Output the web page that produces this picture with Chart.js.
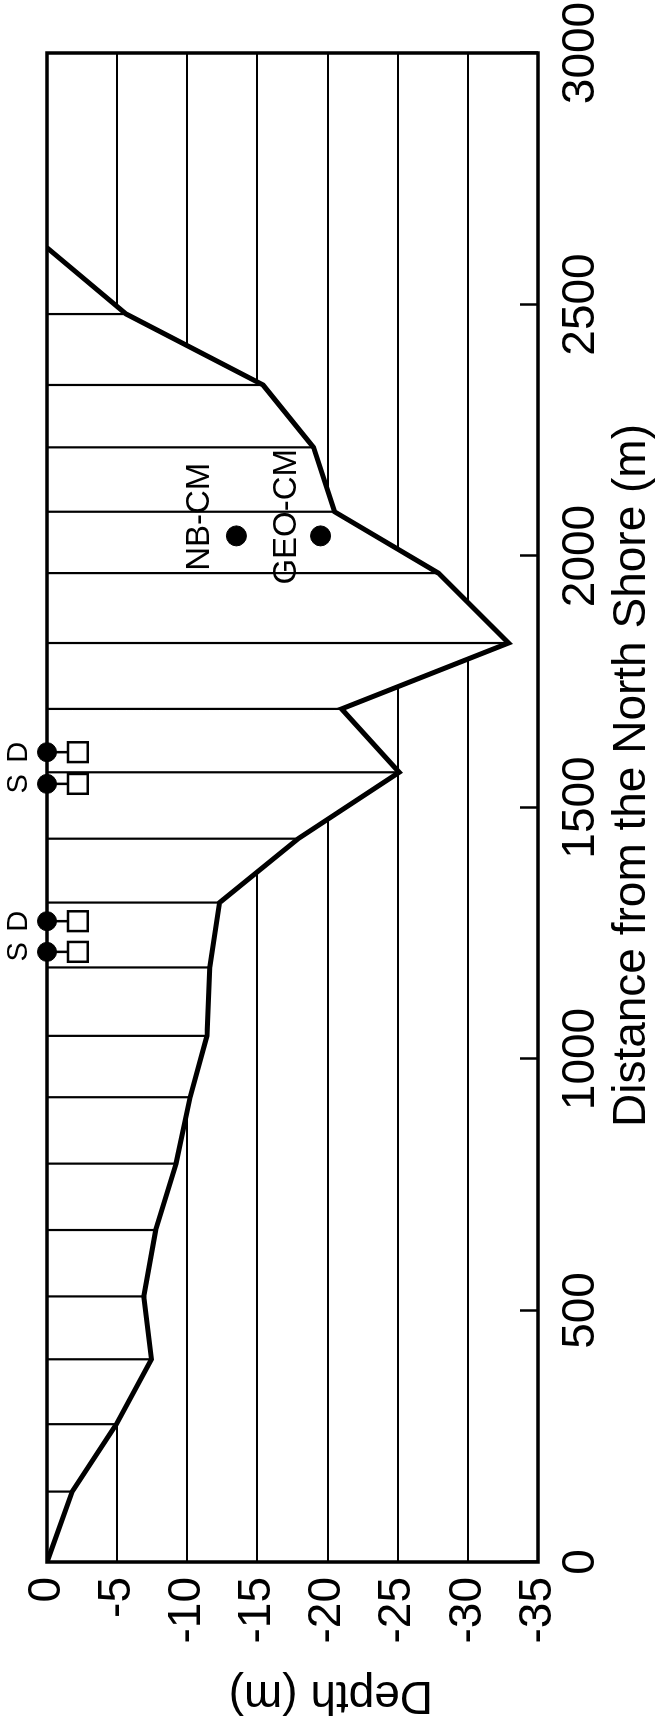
<!DOCTYPE html>
<html>
<head>
<meta charset="utf-8">
<script src="https://cdn.jsdelivr.net/npm/chart.js@4.4.0/dist/chart.umd.min.js"></script>
<style>
  html, body { margin: 0; padding: 0; background: #fff; overflow: hidden; }
  /* chart is laid out landscape, then turned a quarter to fit the page */
  #wrap {
    position: absolute; left: 0; top: 0;
    width: 1726px; height: 655px;
    transform-origin: 0 0;
    transform: translateY(1726px) rotate(-90deg);
  }
</style>
</head>
<body>
<div id="wrap"><canvas id="chart" width="1726" height="655"></canvas></div>
<script>
// bottom profile: survey stations across the section
const stationDist = [0, 140, 274, 403, 528, 660, 792, 924, 1046, 1182, 1311, 1438, 1570, 1696, 1827, 1966, 2088, 2216, 2340, 2481, 2613];
const stationDepth = [0, -1.8, -4.95, -7.45, -6.9, -7.75, -9.2, -10.2, -11.4, -11.6, -12.3, -17.9, -25.1, -21.0, -32.9, -27.9, -20.5, -19.0, -15.4, -5.65, 0];

// surface / deep sampling points
const sampleDist = [1213, 1274, 1547, 1610];
const sampleLabels = ["S", "D", "S", "D"];
const surfaceDepth = [0, 0, 0, 0];
const deepDepth = [-2.2, -2.2, -2.2, -2.2];
const sampleLabelDepth = 2.0;

// current meter moorings
const mooringNames = ["NB-CM", "GEO-CM"];
const mooringDist = [2040, 2040];
const mooringDepth = [-13.5, -19.5];
const mooringLabelDist = [2078, 2078];
const mooringLabelDepth = [-10.9, -17.1];

// axis ticks
const distTicks = [0, 500, 1000, 1500, 2000, 2500, 3000];
const depthTicks = [0, -5, -10, -15, -20, -25, -30, -35];

const FONT = '"Liberation Sans", Arial, Helvetica, sans-serif';

const frame = {
  id: "frame",
  afterDatasetsDraw(chart) {
    const { ctx, chartArea: a } = chart;
    ctx.save();
    ctx.strokeStyle = "#000";
    ctx.lineWidth = 3.5;
    ctx.strokeRect(a.left, a.top, a.right - a.left, a.bottom - a.top);
    ctx.restore();
  },
};

const textLabels = {
  id: "textLabels",
  afterDatasetsDraw(chart) {
    const { ctx } = chart;
    const x = chart.scales.x;
    const y = chart.scales.y;
    ctx.save();
    ctx.fillStyle = "#000";
    ctx.textAlign = "center";
    ctx.textBaseline = "middle";
    ctx.font = "29px " + FONT;
    sampleDist.forEach((d, i) => {
      ctx.fillText(sampleLabels[i], x.getPixelForValue(d), y.getPixelForValue(sampleLabelDepth));
    });
    ctx.font = "33px " + FONT;
    mooringNames.forEach((name, i) => {
      ctx.fillText(name, x.getPixelForValue(mooringLabelDist[i]), y.getPixelForValue(mooringLabelDepth[i]));
    });
    ctx.restore();
  },
};

const profile = stationDist.map((d, i) => ({ x: d, y: stationDepth[i] }));
const stationLines = stationDist.flatMap((d, i) => [
  { x: d, y: 0 },
  { x: d, y: stationDepth[i] },
  { x: d, y: null },
]);
const connectors = sampleDist.flatMap((d, i) => [
  { x: d, y: surfaceDepth[i] },
  { x: d, y: deepDepth[i] },
  { x: d, y: null },
]);

const ctx = document.getElementById("chart").getContext("2d");
new Chart(ctx, {
  type: "line",
  data: {
    datasets: [
      {
        label: "bottom",
        data: profile,
        borderColor: "#000",
        borderWidth: 5,
        pointRadius: 0,
        fill: "origin",
        backgroundColor: "#fff",
        tension: 0,
        order: 10,
      },
      {
        label: "stations",
        data: stationLines,
        borderColor: "#000",
        borderWidth: 2.2,
        pointRadius: 0,
        spanGaps: false,
        fill: false,
        order: 6,
      },
      {
        label: "connectors",
        data: connectors,
        borderColor: "#000",
        borderWidth: 2.5,
        pointRadius: 0,
        spanGaps: false,
        fill: false,
        clip: false,
        order: 5,
      },
      {
        label: "deep",
        data: sampleDist.map((d, i) => ({ x: d, y: deepDepth[i] })),
        showLine: false,
        pointStyle: "rect",
        pointRadius: 14,
        pointBackgroundColor: "#fff",
        pointBorderColor: "#000",
        pointBorderWidth: 2.5,
        clip: false,
        order: 4,
      },
      {
        label: "surface",
        data: sampleDist.map((d, i) => ({ x: d, y: surfaceDepth[i] })),
        showLine: false,
        pointStyle: "circle",
        pointRadius: 9.5,
        pointBackgroundColor: "#000",
        pointBorderColor: "#000",
        pointBorderWidth: 1,
        clip: false,
        order: 3,
      },
      {
        label: "moorings",
        data: mooringDist.map((d, i) => ({ x: d, y: mooringDepth[i] })),
        showLine: false,
        pointStyle: "circle",
        pointRadius: 10,
        pointBackgroundColor: "#000",
        pointBorderColor: "#000",
        pointBorderWidth: 1,
        order: 2,
      },
    ],
  },
  options: {
    responsive: false,
    animation: false,
    layout: { padding: { left: 0, right: 53, top: 47, bottom: 0 } },
    plugins: {
      legend: { display: false },
      tooltip: { enabled: false },
    },
    scales: {
      x: {
        type: "linear",
        position: "bottom",
        min: distTicks[0],
        max: distTicks[distTicks.length - 1],
        afterBuildTicks: (s) => { s.ticks = distTicks.map((v) => ({ value: v })); },
        ticks: {
          callback: (v) => String(v),
          font: { family: FONT, size: 46 },
          color: "#000",
          padding: 34,
          maxRotation: 0,
          autoSkip: false,
        },
        grid: {
          drawOnChartArea: false,
          drawTicks: true,
          tickLength: -18,
          tickWidth: 2.5,
          tickColor: "#000",
        },
        border: { display: false },
        title: {
          display: true,
          text: "     Distance from the North Shore (m)",
          font: { family: FONT, size: 46, lineHeight: 1 },
          color: "#000",
          padding: { top: 0, bottom: 0 },
        },
        afterFit: (s) => { s.height = 117; s.paddingLeft = 0; s.paddingRight = 0; },
      },
      y: {
        type: "linear",
        min: depthTicks[depthTicks.length - 1],
        max: depthTicks[0],
        afterBuildTicks: (s) => { s.ticks = depthTicks.map((v) => ({ value: v })); },
        ticks: {
          callback: (v) => String(v),
          font: { family: FONT, size: 46 },
          color: "#000",
          padding: 15,
          autoSkip: false,
        },
        grid: { color: "#000", lineWidth: 2, drawTicks: false },
        border: { display: false },
        title: {
          display: true,
          text: "Depth (m)      ",
          font: { family: FONT, size: 46, lineHeight: 1 },
          color: "#000",
          padding: { top: 8, bottom: 0 },
        },
        afterFit: (s) => { s.width = 164; },
      },
    },
  },
  plugins: [frame, textLabels],
});
</script>
</body>
</html>
